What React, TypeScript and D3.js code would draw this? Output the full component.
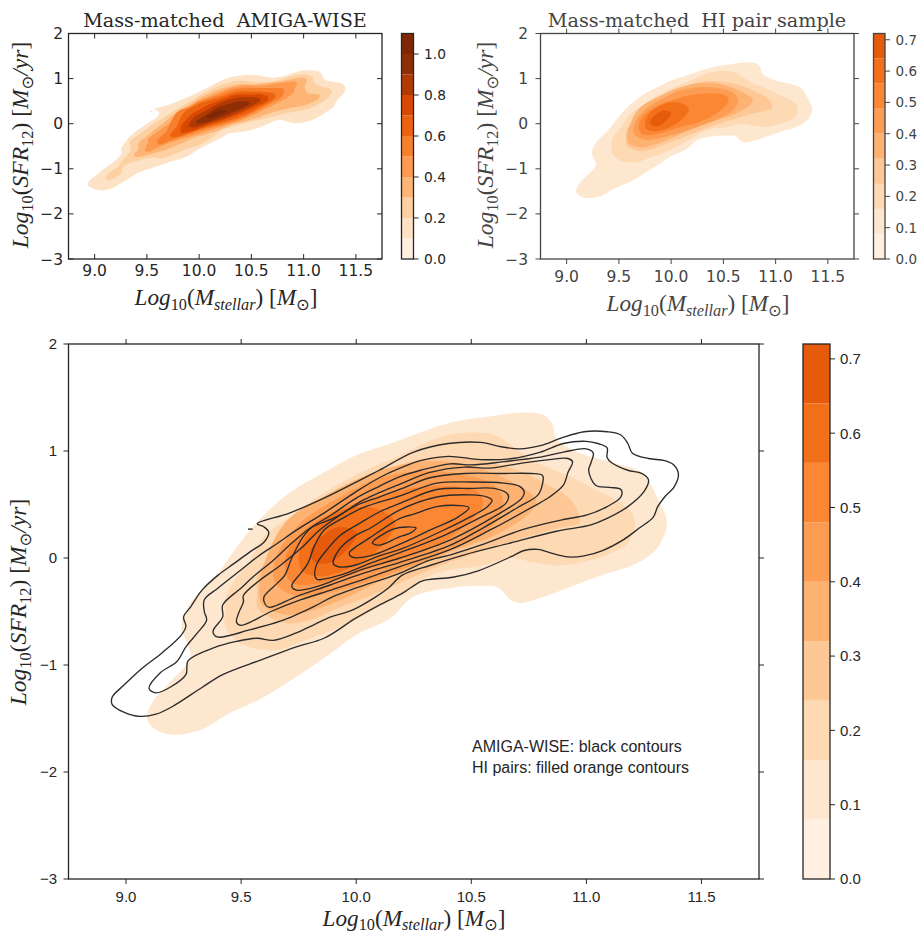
import * as d3 from "d3";
import * as React from "react";

type Pt = [number, number];

const xTicks = [9.0, 9.5, 10.0, 10.5, 11.0, 11.5];
const yTicks = [-3, -2, -1, 0, 1, 2];
const amigaBarTicks = [0.0, 0.2, 0.4, 0.6, 0.8, 1.0];
const pairBarTicks = [0.0, 0.1, 0.2, 0.3, 0.4, 0.5, 0.6, 0.7];

// contour levels of the two density maps
const amigaLevels = [0, 0.1, 0.2, 0.3, 0.4, 0.5, 0.6, 0.7, 0.8, 0.9, 1.0, 1.1];
const pairLevels = [0, 0.08, 0.16, 0.24, 0.32, 0.4, 0.48, 0.56, 0.64, 0.72];

// Oranges colormap stops
const orangeStops = ["#fff5eb", "#fee6ce", "#fdd0a2", "#fdae6b", "#fd8d3c", "#f16913", "#d94801", "#a63603", "#7f2704"];

// AMIGA-WISE contours: [log Mstellar, log SFR12]
const amigaStub: Pt[] = [[9.53, 0.27], [9.55, 0.27]];
const amiga10: Pt[] = [[9.57,0.32],[9.71,0.42],[9.86,0.56],[10.0,0.71],[10.1,0.82],[10.25,0.99],[10.4,1.07],[10.54,1.08],[10.63,1.04],[10.71,1.02],[10.8,1.05],[10.89,1.12],[10.99,1.18],[11.09,1.18],[11.15,1.15],[11.18,1.07],[11.2,0.98],[11.27,0.93],[11.34,0.91],[11.38,0.87],[11.4,0.78],[11.38,0.66],[11.34,0.57],[11.31,0.48],[11.29,0.38],[11.23,0.28],[11.16,0.17],[11.07,0.07],[10.99,0.02],[10.92,0.01],[10.84,0.05],[10.79,0.08],[10.73,0.07],[10.67,0.01],[10.53,-0.12],[10.42,-0.18],[10.32,-0.2],[10.28,-0.22],[10.2,-0.33],[10.1,-0.44],[10.0,-0.56],[9.86,-0.75],[9.74,-0.83],[9.59,-0.95],[9.42,-1.09],[9.33,-1.21],[9.2,-1.39],[9.13,-1.46],[9.06,-1.48],[8.99,-1.44],[8.94,-1.37],[8.94,-1.3],[8.99,-1.19],[9.07,-1.03],[9.16,-0.88],[9.24,-0.72],[9.26,-0.64],[9.25,-0.55],[9.28,-0.46],[9.33,-0.3],[9.4,-0.16],[9.47,-0.05],[9.54,0.06],[9.6,0.15],[9.62,0.24],[9.6,0.29]];
const amiga20: Pt[] = [[9.1,-1.22],[9.13,-1.26],[9.19,-1.21],[9.26,-1.09],[9.27,-0.96],[9.38,-0.84],[9.48,-0.78],[9.57,-0.75],[9.64,-0.77],[9.74,-0.7],[9.82,-0.62],[9.89,-0.55],[9.98,-0.49],[10.08,-0.37],[10.14,-0.28],[10.2,-0.16],[10.32,-0.07],[10.47,0.03],[10.67,0.14],[10.87,0.25],[11.02,0.31],[11.09,0.37],[11.18,0.48],[11.25,0.62],[11.27,0.73],[11.24,0.79],[11.18,0.82],[11.11,0.89],[11.09,0.94],[11.09,1.03],[11.05,1.07],[11.0,1.09],[10.9,1.07],[10.8,0.99],[10.68,0.93],[10.54,0.92],[10.4,0.95],[10.28,0.91],[10.19,0.84],[10.1,0.75],[10.0,0.62],[9.86,0.42],[9.74,0.26],[9.66,0.14],[9.57,0.01],[9.5,-0.11],[9.4,-0.28],[9.34,-0.39],[9.34,-0.5],[9.35,-0.58],[9.31,-0.7],[9.26,-0.83],[9.22,-0.97],[9.15,-1.07]];
const amiga30: Pt[] = [[9.38,-0.71],[9.4,-0.74],[9.54,-0.67],[9.67,-0.59],[9.74,-0.53],[9.82,-0.45],[9.89,-0.37],[10.0,-0.28],[10.18,-0.15],[10.32,-0.02],[10.41,0.03],[10.54,0.12],[10.73,0.27],[10.9,0.36],[11.0,0.4],[11.09,0.48],[11.15,0.57],[11.15,0.64],[11.1,0.66],[11.04,0.68],[11.01,0.82],[11.02,0.89],[11.03,0.98],[11.0,1.02],[10.9,0.99],[10.79,0.94],[10.64,0.9],[10.5,0.87],[10.41,0.88],[10.28,0.82],[10.19,0.76],[10.1,0.67],[10.0,0.56],[9.89,0.4],[9.8,0.28],[9.71,0.12],[9.64,-0.02],[9.55,-0.18],[9.5,-0.28],[9.42,-0.44],[9.42,-0.55],[9.38,-0.67]];
const amiga40: Pt[] = [[9.48,-0.6],[9.5,-0.63],[9.63,-0.5],[9.76,-0.39],[9.89,-0.3],[10.02,-0.21],[10.19,-0.08],[10.41,0.08],[10.58,0.26],[10.76,0.47],[10.84,0.57],[10.9,0.68],[10.92,0.8],[10.94,0.9],[10.92,0.93],[10.84,0.92],[10.7,0.88],[10.58,0.84],[10.47,0.85],[10.32,0.8],[10.19,0.69],[10.1,0.61],[10.02,0.53],[9.95,0.43],[9.84,0.26],[9.76,0.09],[9.67,-0.07],[9.58,-0.21],[9.51,-0.35],[9.51,-0.41],[9.49,-0.51]];
const amiga50: Pt[] = [[9.6,-0.41],[9.62,-0.46],[9.74,-0.36],[9.89,-0.25],[10.02,-0.15],[10.19,-0.04],[10.41,0.12],[10.55,0.28],[10.7,0.47],[10.79,0.59],[10.81,0.7],[10.81,0.77],[10.76,0.79],[10.64,0.79],[10.47,0.79],[10.32,0.75],[10.2,0.65],[10.1,0.57],[10.0,0.49],[9.9,0.37],[9.81,0.29],[9.77,0.2],[9.72,0.0],[9.69,-0.16],[9.66,-0.23],[9.6,-0.36]];
const amiga60: Pt[] = [[9.72,-0.26],[9.74,-0.3],[9.84,-0.26],[9.89,-0.22],[10.02,-0.11],[10.19,0.0],[10.41,0.17],[10.61,0.4],[10.72,0.56],[10.73,0.62],[10.71,0.67],[10.64,0.7],[10.5,0.71],[10.35,0.7],[10.19,0.58],[10.03,0.47],[9.94,0.37],[9.86,0.26],[9.82,0.12],[9.79,-0.05],[9.76,-0.14]];
const amiga70: Pt[] = [[9.82,-0.16],[9.83,-0.2],[9.93,-0.16],[10.06,-0.05],[10.19,0.05],[10.37,0.2],[10.54,0.38],[10.65,0.51],[10.66,0.59],[10.6,0.65],[10.5,0.65],[10.35,0.64],[10.2,0.52],[10.1,0.43],[10.02,0.33],[9.93,0.21],[9.87,0.07],[9.83,-0.05]];
const amiga80: Pt[] = [[9.9,-0.05],[9.92,-0.08],[9.99,-0.07],[10.1,0.02],[10.19,0.08],[10.37,0.25],[10.51,0.4],[10.57,0.48],[10.59,0.54],[10.57,0.57],[10.5,0.59],[10.35,0.57],[10.19,0.45],[10.07,0.29],[9.99,0.2],[9.93,0.09]];
const amiga90: Pt[] = [[9.97,0.05],[9.98,0.01],[10.06,0.02],[10.19,0.13],[10.32,0.26],[10.44,0.38],[10.49,0.47],[10.45,0.49],[10.35,0.48],[10.25,0.41],[10.19,0.37],[10.06,0.19],[9.99,0.09]];
const amiga100: Pt[] = [[10.07,0.14],[10.1,0.12],[10.18,0.19],[10.24,0.24],[10.26,0.28],[10.22,0.29],[10.16,0.27],[10.1,0.2],[10.08,0.17]];
const amigaContours = [amiga10, amiga20, amiga30, amiga40, amiga50, amiga60, amiga70, amiga80, amiga90, amiga100];

// HI pair contours
const pair08: Pt[] = [[9.09,-1.49],[9.12,-1.59],[9.2,-1.65],[9.32,-1.61],[9.45,-1.45],[9.6,-1.3],[9.74,-1.11],[9.89,-0.89],[10.0,-0.72],[10.15,-0.56],[10.25,-0.36],[10.41,-0.28],[10.55,-0.26],[10.62,-0.28],[10.67,-0.39],[10.71,-0.42],[10.79,-0.38],[10.93,-0.27],[11.07,-0.16],[11.22,-0.05],[11.31,0.1],[11.35,0.33],[11.32,0.51],[11.25,0.78],[11.2,0.84],[11.1,0.9],[10.96,0.99],[10.87,1.12],[10.85,1.26],[10.81,1.34],[10.73,1.36],[10.57,1.32],[10.42,1.27],[10.25,1.15],[10.15,1.07],[10.0,0.96],[9.86,0.8],[9.71,0.61],[9.58,0.36],[9.48,0.1],[9.4,-0.14],[9.28,-0.42],[9.24,-0.64],[9.26,-0.77],[9.28,-0.93],[9.2,-1.14],[9.12,-1.33]];
const pair16: Pt[] = [[9.43,-0.51],[9.43,-0.64],[9.48,-0.77],[9.55,-0.84],[9.66,-0.86],[9.8,-0.75],[9.94,-0.64],[10.15,-0.39],[10.35,-0.14],[10.55,-0.07],[10.67,0.0],[10.77,-0.04],[10.87,-0.07],[10.96,-0.05],[11.09,0.03],[11.18,0.14],[11.21,0.29],[11.2,0.42],[11.13,0.54],[11.03,0.65],[10.94,0.75],[10.84,0.84],[10.76,0.92],[10.67,1.06],[10.6,1.15],[10.48,1.17],[10.35,1.12],[10.15,0.92],[10.0,0.78],[9.83,0.57],[9.71,0.38],[9.6,0.2],[9.53,-0.05],[9.47,-0.21],[9.43,-0.39]];
const pair24: Pt[] = [[9.57,-0.33],[9.57,-0.46],[9.62,-0.55],[9.7,-0.61],[9.8,-0.58],[9.92,-0.47],[10.09,-0.33],[10.32,-0.11],[10.54,0.06],[10.76,0.21],[10.9,0.29],[10.97,0.33],[10.96,0.45],[10.92,0.57],[10.81,0.71],[10.7,0.82],[10.57,0.9],[10.45,0.94],[10.32,0.94],[10.19,0.87],[10.02,0.73],[9.84,0.5],[9.71,0.26],[9.63,0.03],[9.57,-0.16]];
const pair32: Pt[] = [[9.58,-0.24],[9.59,-0.43],[9.7,-0.53],[9.89,-0.43],[10.15,-0.17],[10.4,0.05],[10.63,0.24],[10.77,0.46],[10.78,0.55],[10.64,0.75],[10.44,0.89],[10.28,0.9],[10.09,0.81],[9.89,0.61],[9.7,0.35],[9.61,0.01]];
const pair40: Pt[] = [[9.64,-0.1],[9.65,-0.24],[9.75,-0.36],[9.96,-0.28],[10.21,-0.1],[10.44,0.1],[10.58,0.27],[10.64,0.5],[10.6,0.68],[10.44,0.79],[10.28,0.81],[10.09,0.74],[9.93,0.57],[9.77,0.35],[9.67,0.09]];
const pair48: Pt[] = [[9.69,-0.06],[9.72,-0.23],[9.86,-0.23],[10.05,-0.1],[10.28,0.05],[10.44,0.24],[10.55,0.5],[10.52,0.63],[10.37,0.67],[10.21,0.64],[10.02,0.53],[9.83,0.35],[9.72,0.13]];
const pair56: Pt[] = [[9.75,0.0],[9.77,-0.13],[9.86,-0.17],[10.02,-0.04],[10.13,0.16],[10.17,0.33],[10.09,0.46],[9.96,0.46],[9.83,0.31],[9.77,0.16]];
const pair64: Pt[] = [[9.8,0.05],[9.82,-0.04],[9.89,-0.04],[9.98,0.13],[10.0,0.24],[9.93,0.29],[9.85,0.2]];
const pairContours = [pair08, pair16, pair24, pair32, pair40, pair48, pair56, pair64];

const ink = "#262626";
const sans = "'Liberation Sans', Arial, sans-serif";
const vera = "'DejaVu Sans', sans-serif";
const serif = "'DejaVu Serif', serif";
const mathFont = "'Liberation Serif', serif";

const orange = d3
  .scaleLinear<string>()
  .domain(orangeStops.map((_, i) => i / (orangeStops.length - 1)))
  .range(orangeStops)
  .clamp(true);

// a band takes the colour of its mid level
const bandColor = (levels: number[], i: number) => orange((levels[i] + levels[i + 1]) / 2);

const MathSub = ({ fs, children, italic }: any) => (
  <tspan fontSize={fs * 0.7} dy={fs * 0.2} fontStyle={italic ? "italic" : "normal"}>
    {children}
  </tspan>
);

// Log10(Mstellar) [Msun]
function XTitle({ x, y, fs, fill }: any) {
  const up = -fs * 0.2;
  return (
    <text x={x} y={y} textAnchor="middle" fontFamily={mathFont} fontSize={fs} fill={fill} xmlSpace="preserve">
      <tspan fontStyle="italic">Log</tspan>
      <MathSub fs={fs}>10</MathSub>
      <tspan dy={up}>(</tspan>
      <tspan fontStyle="italic">M</tspan>
      <MathSub fs={fs} italic>stellar</MathSub>
      <tspan dy={up}>) [</tspan>
      <tspan fontStyle="italic">M</tspan>
      <tspan fontSize={fs * 0.7} dy={fs * 0.2} fontFamily={vera}>⊙</tspan>
      <tspan dy={up}>]</tspan>
    </text>
  );
}

// Log10(SFR12) [Msun/yr]
function YTitle({ x, y, fs, fill }: any) {
  const up = -fs * 0.2;
  return (
    <text transform={`translate(${x},${y}) rotate(-90)`} textAnchor="middle" fontFamily={mathFont} fontSize={fs} fill={fill} xmlSpace="preserve">
      <tspan fontStyle="italic">Log</tspan>
      <MathSub fs={fs}>10</MathSub>
      <tspan dy={up}>(</tspan>
      <tspan fontStyle="italic">SFR</tspan>
      <MathSub fs={fs}>12</MathSub>
      <tspan dy={up}>) [</tspan>
      <tspan fontStyle="italic">M</tspan>
      <tspan fontSize={fs * 0.7} dy={fs * 0.2} fontFamily={vera}>⊙</tspan>
      <tspan dy={up} fontStyle="italic">/yr</tspan>
      <tspan>]</tspan>
    </text>
  );
}

function Frame({ box, tickLen, font, fontSize, color, xLabelY, yLabelX, children }: any) {
  const { left, right, top, bottom } = box;
  const x = d3.scaleLinear().domain([8.75, 11.75]).range([left, right]);
  const y = d3.scaleLinear().domain([-3, 2]).range([bottom, top]);
  const line = d3
    .line<Pt>()
    .x((d) => x(d[0]))
    .y((d) => y(d[1]))
    .curve(d3.curveCatmullRomClosed.alpha(0.5));
  return (
    <g>
      {children(line, x, y)}
      <rect x={left} y={top} width={right - left} height={bottom - top} fill="none" stroke={color} strokeWidth={1.3} />
      {xTicks.map((t) => (
        <g key={"x" + t} stroke={color} strokeWidth={1}>
          <line x1={x(t)} x2={x(t)} y1={bottom} y2={bottom - tickLen} />
          <line x1={x(t)} x2={x(t)} y1={top} y2={top + tickLen} />
        </g>
      ))}
      {yTicks.map((t) => (
        <g key={"y" + t} stroke={color} strokeWidth={1}>
          <line x1={left} x2={left + tickLen} y1={y(t)} y2={y(t)} />
          <line x1={right} x2={right - tickLen} y1={y(t)} y2={y(t)} />
        </g>
      ))}
      {xTicks.map((t) => (
        <text key={"xl" + t} x={x(t)} y={xLabelY} textAnchor="middle" fontFamily={font} fontSize={fontSize} fill={color}>
          {d3.format(".1f")(t)}
        </text>
      ))}
      {yTicks.map((t) => (
        <text key={"yl" + t} x={yLabelX} y={y(t)} dy="0.36em" textAnchor="end" fontFamily={font} fontSize={fontSize} fill={color}>
          {d3.format("d")(t).replace("-", "−")}
        </text>
      ))}
    </g>
  );
}

function ColorBar({ left, right, top, bottom, levels, ticks, font, fontSize, color, labelX }: any) {
  const y = d3.scaleLinear().domain([0, levels[levels.length - 1]]).range([bottom, top]);
  return (
    <g>
      {levels.slice(0, -1).map((l: number, i: number) => (
        <rect key={i} x={left} width={right - left} y={y(levels[i + 1])} height={y(l) - y(levels[i + 1])} fill={bandColor(levels, i)} />
      ))}
      <rect x={left} y={top} width={right - left} height={bottom - top} fill="none" stroke={color} strokeWidth={1.3} />
      {ticks.map((t: number) => (
        <g key={t}>
          <line x1={right} x2={right + 5} y1={y(t)} y2={y(t)} stroke={color} strokeWidth={1} />
          <text x={labelX} y={y(t)} dy="0.36em" fontFamily={font} fontSize={fontSize} fill={color}>
            {d3.format(".1f")(t)}
          </text>
        </g>
      ))}
    </g>
  );
}

const Fills = ({ contours, levels, line }: any) =>
  contours.map((c: Pt[], i: number) => <path key={i} d={line(c) as string} fill={bandColor(levels, i + 1)} stroke="none" />);

export default function App() {
  return (
    <svg width={918} height={934} style={{ position: "absolute", left: 0, top: 0, background: "#fff" }}>
      {/* top left: AMIGA-WISE */}
      <Frame box={{ left: 68.5, right: 382, top: 33.5, bottom: 259 }} tickLen={5} font={vera} fontSize={15.5} color={ink} xLabelY={276} yLabelX={63}>
        {(line: any, x: any, y: any) => (
          <g>
            <Fills contours={amigaContours} levels={amigaLevels} line={line} />
            <line x1={x(amigaStub[0][0])} x2={x(amigaStub[1][0])} y1={y(amigaStub[0][1])} y2={y(amigaStub[1][1])} stroke={bandColor(amigaLevels, 1)} strokeWidth={1} />
          </g>
        )}
      </Frame>
      <ColorBar left={401.5} right={413.5} top={33.5} bottom={259} levels={amigaLevels} ticks={amigaBarTicks} font={vera} fontSize={13.8} color={ink} labelX={424} />
      <text x={225} y={27} textAnchor="middle" fontFamily={serif} fontSize={19.2} fill={ink} xmlSpace="preserve">
        Mass-matched  AMIGA-WISE
      </text>
      <XTitle x={226} y={305} fs={23.2} fill={ink} />
      <YTitle x={28} y={145} fs={23.5} fill={ink} />

      {/* top right: HI pairs */}
      <Frame box={{ left: 540.5, right: 854, top: 33.5, bottom: 259 }} tickLen={-5} font={vera} fontSize={15.5} color="#444" xLabelY={282} yLabelX={528}>
        {(line: any) => <Fills contours={pairContours} levels={pairLevels} line={line} />}
      </Frame>
      <ColorBar left={873.5} right={885} top={33.5} bottom={259} levels={pairLevels} ticks={pairBarTicks} font={vera} fontSize={13.5} color="#444" labelX={895.5} />
      <text x={697} y={27} textAnchor="middle" fontFamily={serif} fontSize={19.2} fill="#444" xmlSpace="preserve">
        Mass-matched  HI pair sample
      </text>
      <XTitle x={698} y={311} fs={23.2} fill="#444" />
      <YTitle x={493} y={145} fs={23.5} fill="#444" />

      {/* bottom: both */}
      <Frame box={{ left: 68.5, right: 759, top: 344, bottom: 879 }} tickLen={-5} font={sans} fontSize={15} color={ink} xLabelY={902} yLabelX={57}>
        {(line: any, x: any, y: any) => (
          <g>
            <Fills contours={pairContours} levels={pairLevels} line={line} />
            {amigaContours.map((c, i) => (
              <path key={i} d={line(c) as string} fill="none" stroke="#2b2b2b" strokeWidth={1.35} />
            ))}
            <line x1={x(amigaStub[0][0])} x2={x(amigaStub[1][0])} y1={y(amigaStub[0][1])} y2={y(amigaStub[1][1])} stroke="#2b2b2b" strokeWidth={1.35} />
          </g>
        )}
      </Frame>
      <ColorBar left={803} right={830} top={344} bottom={879} levels={pairLevels} ticks={pairBarTicks} font={sans} fontSize={15} color={ink} labelX={840} />
      <XTitle x={414} y={925.5} fs={23.2} fill={ink} />
      <YTitle x={26} y={602} fs={23.5} fill={ink} />
      <text fontFamily={sans} fontSize={16} fill={ink}>
        <tspan x={472} y={752}>AMIGA-WISE: black contours</tspan>
        <tspan x={472} y={773}>HI pairs: filled orange contours</tspan>
      </text>
    </svg>
  );
}
